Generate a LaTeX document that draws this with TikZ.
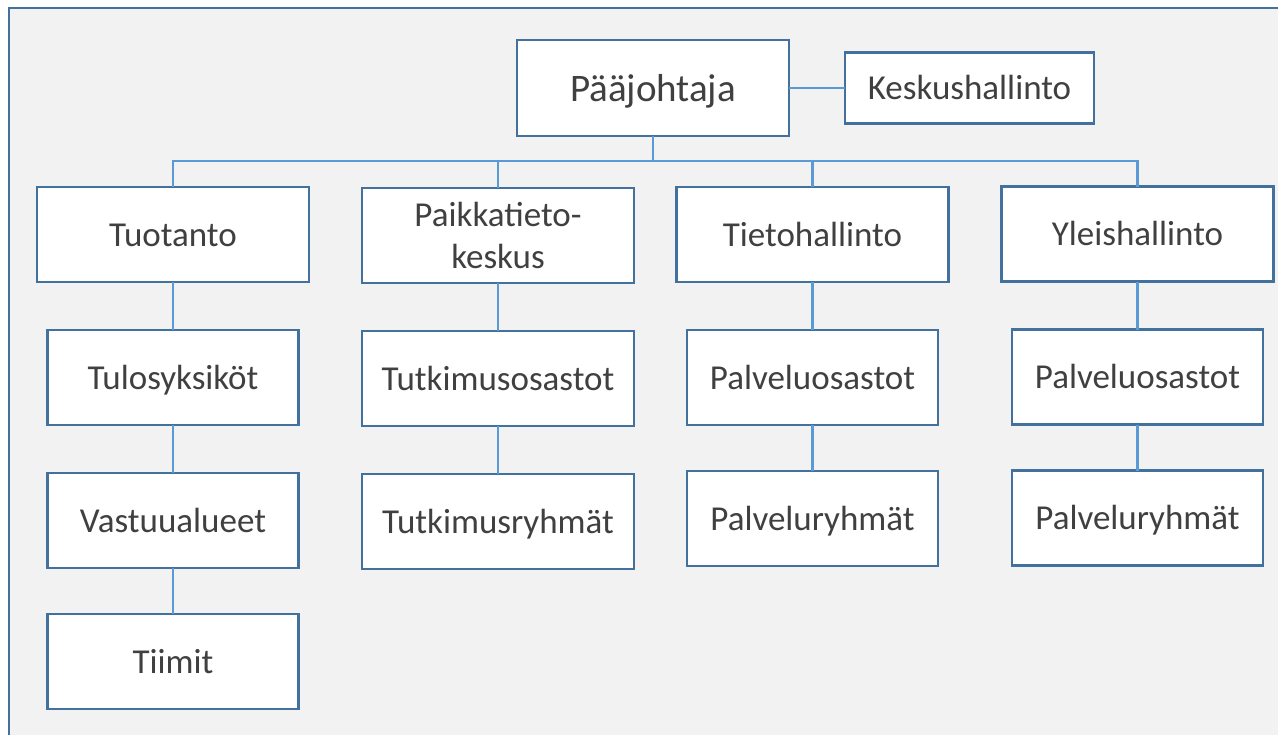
\documentclass[tikz,border=0pt]{standalone}
\usepackage{fontspec}
\setmainfont{Carlito}
\usetikzlibrary{positioning}
\definecolor{boxline}{HTML}{41719C}
\definecolor{linkblue}{HTML}{5B9BD5}
\definecolor{panelgray}{HTML}{F2F2F2}
\definecolor{textgray}{HTML}{404040}
\tikzstyle{unit} = [draw=boxline, line width=1.7pt, fill=white, text=textgray,
outer sep=0pt, inner sep=2pt, text height=25pt, text depth=7.1pt,
font=\fontsize{26.25}{31.5}\selectfont]
\tikzstyle{mainunit} = [unit, minimum width=204pt, minimum height=71.25pt]
\tikzstyle{subunit} = [unit, minimum width=188.25pt, minimum height=71.25pt]
\tikzstyle{link} = [draw=linkblue, line width=2pt]

\begin{document}
\begin{tikzpicture}[x=0.75pt, y=-0.75pt, node distance=36pt]
  \useasboundingbox (0,0) rectangle (1278,735);
  % panel
  \fill[panelgray] (9,8) rectangle (1278,735);
  \draw[boxline, line width=2pt] (9,735) -- (9,8) -- (1278,8);

  % top
  \node[mainunit, minimum height=72pt, text height=27.8pt, text depth=7.9pt,
    font=\fontsize{29.25}{35}\selectfont] (paa) at (653,88) {Pääjohtaja};
  \node[unit, minimum width=186.75pt, minimum height=53.25pt] (kesk) at (969.5,88) {Keskushallinto};

  % departments
  \node[mainunit] (tuot) at (173,234.5) {Tuotanto};
  \node[mainunit, align=center, text height=, text depth=] (paik) at (498,235.5) {Paikkatieto-\\keskus};
  \node[mainunit] (tieto) at (812.5,234.5) {Tietohallinto};
  \node[mainunit] (yleis) at (1137.5,234) {Yleishallinto};

  % units below
  \node[subunit, below=of tuot] (tulos) {Tulosyksiköt};
  \node[subunit, below=of tulos] (vast) {Vastuualueet};
  \node[subunit, below=34.5pt of vast] (tiimit) {Tiimit};
  \node[mainunit, below=of paik] (tutos) {Tutkimusosastot};
  \node[mainunit, below=of tutos] (tutry) {Tutkimusryhmät};
  \node[subunit, below=of tieto] (tpos) {Palveluosastot};
  \node[subunit, below=34.5pt of tpos] (tpry) {Palveluryhmät};
  \node[subunit, below=of yleis] (ypos) {Palveluosastot};
  \node[subunit, below=34.5pt of ypos] (ypry) {Palveluryhmät};

  % connectors
  \coordinate (bus) at (0,161);
  \draw[link] (paa) -- (kesk);
  \foreach \dept in {tuot,paik,tieto,yleis}
    \draw[link] (paa.south) |- (\dept.north |- bus) -- (\dept.north);
  \draw[link] (tuot) -- (tulos) (tulos) -- (vast) (vast) -- (tiimit);
  \draw[link] (paik) -- (tutos) (tutos) -- (tutry);
  \draw[link] (tieto) -- (tpos) (tpos) -- (tpry);
  \draw[link] (yleis) -- (ypos) (ypos) -- (ypry);
\end{tikzpicture}
\end{document}
